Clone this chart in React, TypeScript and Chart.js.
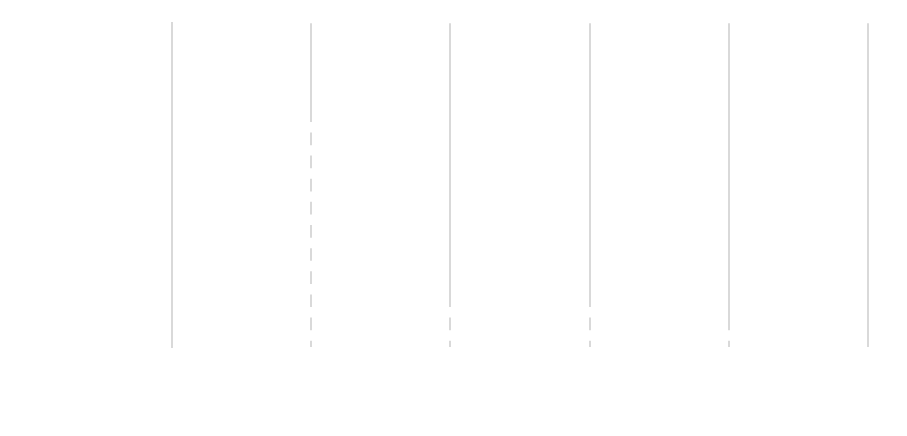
import React, { useEffect, useRef } from "react";
import { Chart, registerables } from "chart.js";

Chart.register(...registerables);

const categories: string[] = [
  "Category 1",
  "Category 2",
  "Category 3",
  "Category 4",
  "Category 5",
  "Category 6",
  "Category 7",
  "Category 8",
  "Category 9",
  "Category 10",
  "Category 11",
  "Category 12",
  "Category 13",
  "Category 14",
];

const values: number[] = [8, 12, 15, 18, 22, 24, 26, 28, 30, 32, 35, 38, 70, 90];

const xTicks: number[] = [0, 20, 40, 60, 80, 100];

const GRID = "rgba(0,0,0,0.15)";

export default function App() {
  const ref = useRef<HTMLCanvasElement | null>(null);

  useEffect(() => {
    if (!ref.current) return;
    const chart = new Chart(ref.current, {
      type: "bar",
      data: {
        labels: categories,
        datasets: [
          {
            label: "Value",
            data: values,
            backgroundColor: "#ffffff",
            borderColor: "#ffffff",
            borderWidth: 0,
            barPercentage: 0.9,
            categoryPercentage: 0.5,
          },
        ],
      },
      options: {
        indexAxis: "y",
        animation: false,
        responsive: true,
        maintainAspectRatio: false,
        layout: { padding: { top: 15, right: 31, left: 0, bottom: 0 } },
        plugins: {
          legend: { display: false },
          tooltip: { enabled: false },
        },
        scales: {
          x: {
            min: xTicks[0],
            max: xTicks[xTicks.length - 1],
            afterBuildTicks: (scale: any) => {
              scale.ticks = xTicks.map((v) => ({ value: v }));
            },
            grid: {
              display: true,
              color: (ctx: any) => (ctx.index === 0 ? "rgba(0,0,0,0)" : GRID),
              lineWidth: 2,
              drawTicks: false,
            },
            border: { display: false },
            ticks: { color: "#ffffff", padding: 8 },
            afterFit: (scale: any) => {
              scale.height = 81;
            },
          },
          y: {
            grid: { display: false, drawTicks: false },
            border: { display: true, color: GRID, width: 2, z: 1 },
            ticks: { color: "#ffffff", padding: 8 },
            afterFit: (scale: any) => {
              scale.width = 164;
            },
          },
        },
      },
    });
    return () => chart.destroy();
  }, []);

  return (
    <div style={{ width: "100%", height: 420, position: "relative" }}>
      <canvas ref={ref} />
    </div>
  );
}
